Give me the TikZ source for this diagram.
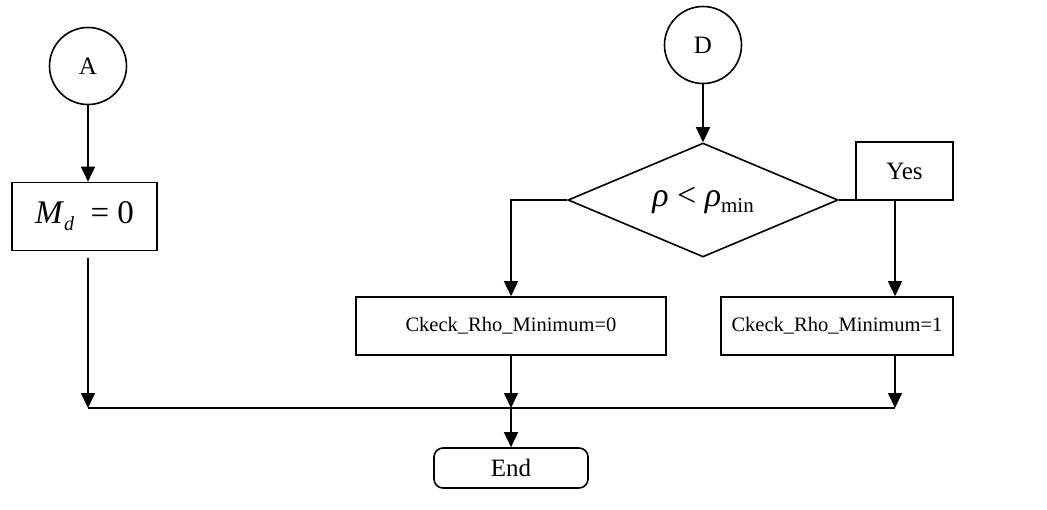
\documentclass[tikz,border=0pt]{standalone}
\usepackage{fontspec}
\setmainfont{Liberation Serif}
\usetikzlibrary{shapes.geometric,arrows.meta}
\begin{document}
\begin{tikzpicture}[x=1pt,y=-1pt,
  line width=1.6pt,
  txt/.style={font=\fontsize{25}{29}\selectfont},
  ctxt/.style={font=\fontsize{20.5}{25}\selectfont},
  box/.style={draw,rectangle,inner sep=0pt,txt},
  conn/.style={draw,circle,inner sep=0pt,minimum size=77pt,txt},
  arr/.style={-{Triangle[length=15pt,width=14pt]}},
  ]
\useasboundingbox (0,0) rectangle (1047,509);
% nodes
\node[conn] (A) at (88,66) {A};
\node[box,minimum width=145pt,minimum height=68pt] (M) at (84.5,216.5)
  {\fontsize{33}{36}\selectfont\textit{M}\raisebox{-0.45ex}{\fontsize{20}{22}\selectfont\textit{d}}\ \ =\ 0};
\node[conn] (D) at (703,45) {D};
\node[draw,diamond,aspect=2.37,inner sep=0pt,minimum width=270pt,minimum height=114pt] (Q) at (703,200)
  {\fontsize{34}{37}\selectfont\textit{ρ}\ <\ \textit{ρ}\raisebox{-0.4ex}{\fontsize{21}{23}\selectfont min}};
\node[box,minimum width=97pt,minimum height=58pt] (Y) at (904.5,171) {Yes};
\node[box,ctxt,minimum width=310pt,minimum height=58pt] (C0) at (511,326) {Ckeck\_Rho\_Minimum=0};
\node[box,ctxt,minimum width=232pt,minimum height=58pt] (C1) at (837,326) {Ckeck\_Rho\_Minimum=1};
\node[box,rounded corners=9pt,minimum width=154pt,minimum height=40pt] (E) at (511,468) {End};
\coordinate (J1) at (88,408);
\coordinate (J2) at (511,408);
\coordinate (J3) at (895,408);
% connectors
\draw[arr] (A) -- (A |- M.north);
\draw[arr,shorten <=7pt] (M.south -| J1) -- (J1);
\draw (J1) -- (J3);
\draw[arr] (D) -- (Q);
\draw[arr] (Q.west) -| (C0);
\draw (Q.east) -- (Q.east -| Y.west);
\draw[arr] (Y.south -| J3) -- (C1.north -| J3);
\draw[arr] (C0) -- (J2);
\draw[arr] (C1.south -| J3) -- (J3);
\draw[arr] (J2) -- (E);
\end{tikzpicture}
\end{document}
